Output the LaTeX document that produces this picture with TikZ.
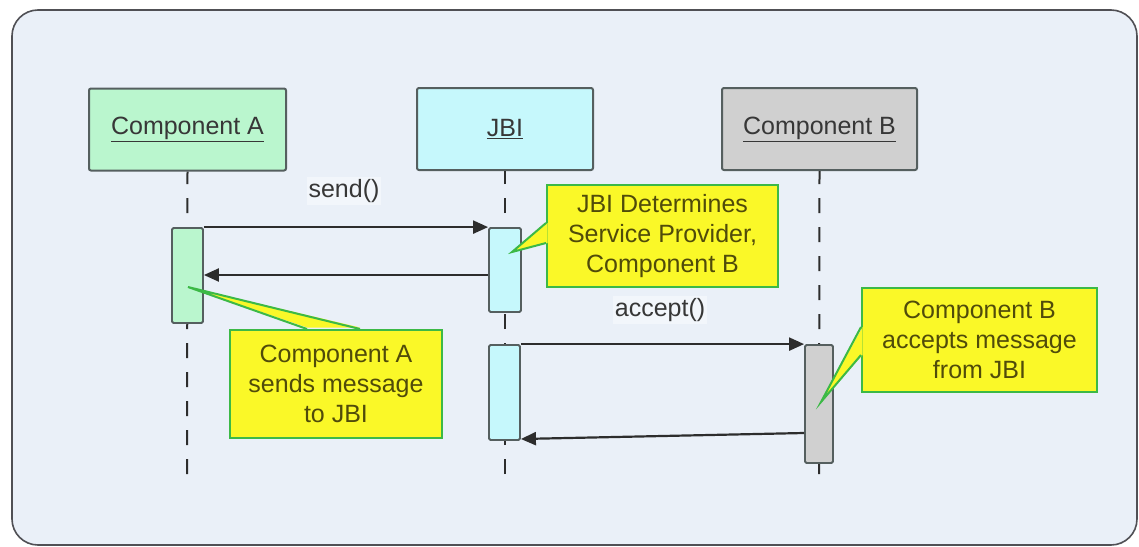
\documentclass[tikz,border=0pt]{standalone}
\usepackage{fontspec}
\setmainfont{Liberation Sans}
\usetikzlibrary{arrows.meta}
\definecolor{bgfill}{RGB}{234,240,248}
\definecolor{bgline}{RGB}{80,80,85}
\definecolor{agreen}{RGB}{186,246,206}
\definecolor{jcyan}{RGB}{198,248,252}
\definecolor{bgray}{RGB}{208,208,208}
\definecolor{boxline}{RGB}{85,95,95}
\definecolor{txt}{RGB}{55,55,55}
\definecolor{noteyel}{RGB}{250,248,40}
\definecolor{notegrn}{RGB}{60,185,70}
\definecolor{notetxt}{RGB}{80,75,10}
\definecolor{msgline}{RGB}{45,45,45}
\begin{document}
\begin{tikzpicture}[x=1pt,y=-1pt,
  every node/.style={font=\fontsize{25}{30}\selectfont, text=txt},
  objbox/.style={draw=boxline, line width=2pt, rounded corners=2pt, minimum width=176pt, minimum height=82pt, inner sep=0pt},
  actbox/.style={draw=boxline, line width=1.8pt, rounded corners=1.5pt, inner sep=0pt},
  life/.style={draw=msgline, line width=2pt, dash pattern=on 15pt off 14pt},
  msg/.style={draw=msgline, line width=2.2pt, -{Triangle[length=15pt,width=13pt]}},
  note/.style={fill=noteyel, draw=notegrn, line width=2pt, inner sep=0pt, align=center, text=notetxt, font=\fontsize{25}{30}\selectfont},
  lbl/.style={inner sep=2pt, text=txt, fill=bgfill!60!white}
]
\useasboundingbox (0,0) rectangle (1139,546);
\fill[white] (0,0) rectangle (1139,546);
\draw[fill=bgfill, draw=bgline, line width=1.6pt, rounded corners=26pt] (12,10) rectangle (1137,545);

% object boxes
\node[objbox, fill=agreen, minimum width=197pt] (A) at (187.5,129.5) {\underline{Component A}};
\node[objbox, fill=jcyan] (J) at (505,129) {\underline{JBI}};
\node[objbox, fill=bgray, minimum width=195pt] (B) at (819.5,129) {\underline{Component B}};

% lifeline ends
\coordinate (Aend) at (187,474);
\coordinate (Jend) at (505,474);
\coordinate (Bend) at (819,474);
\draw[life] (Aend) -- (A.south);
\draw[life] (Jend) -- (J.south);
\draw[life] (Bend) -- (B.south);

% activations
\node[actbox, fill=agreen, minimum width=31pt, minimum height=95pt] (A1) at (187.5,275.5) {};
\node[actbox, fill=jcyan, minimum width=32pt, minimum height=84pt] (J1) at (505,270) {};
\node[actbox, fill=jcyan, minimum width=31pt, minimum height=95pt] (J2) at (504.5,392.5) {};
\node[actbox, fill=bgray, minimum width=28pt, minimum height=118pt] (B1) at (819,404) {};

% messages
\draw[msg] (A1.north east) -- (J1.north west);
\draw[msg] (J1.west |- 0,275) -- (A1.east |- 0,275);
\draw[msg] (J2.north east) -- (B1.north west);
\draw[msg] (B1.west |- 0,433) -- (J2.east |- 0,439);

\node[lbl] (send) at (344,191) {send()};
\node[lbl] (accept) at (660,310) {accept()};

% notes
\node[note, minimum width=231pt, minimum height=102pt] (NJ) at (662.5,236) {JBI Determines\\Service Provider,\\Component B};
\coordinate (NJa) at (NJ.west |- 0,223);
\coordinate (NJb) at (NJ.west |- 0,243);
\coordinate (NJt) at (512,252);
\fill[noteyel] ([xshift=1.5pt]NJa) -- (NJt) -- ([xshift=1.5pt]NJb) -- cycle;
\draw[notegrn, line width=2pt] (NJa) -- (NJt) -- (NJb);

\node[note, minimum width=212pt, minimum height=108pt] (NA) at (336,384) {Component A\\sends message\\to JBI};
\coordinate (NAa) at (NA.north -| 307,0);
\coordinate (NAb) at (NA.north -| 360,0);
\coordinate (NAt) at (188,287);
\fill[noteyel] ([yshift=1.5pt]NAa) -- (NAt) -- ([yshift=1.5pt]NAb) -- cycle;
\draw[notegrn, line width=2pt] (NAa) -- (NAt) -- (NAb);

\node[note, minimum width=235pt, minimum height=104pt] (NB) at (979.5,340) {Component B\\accepts message\\from JBI};
\coordinate (NBa) at (NB.west |- 0,327);
\coordinate (NBb) at (NB.west |- 0,355);
\coordinate (NBt) at (821,402);
\fill[noteyel] ([xshift=1.5pt]NBa) -- (NBt) -- ([xshift=1.5pt]NBb) -- cycle;
\draw[notegrn, line width=2pt] (NBa) -- (NBt) -- (NBb);
\end{tikzpicture}
\end{document}
